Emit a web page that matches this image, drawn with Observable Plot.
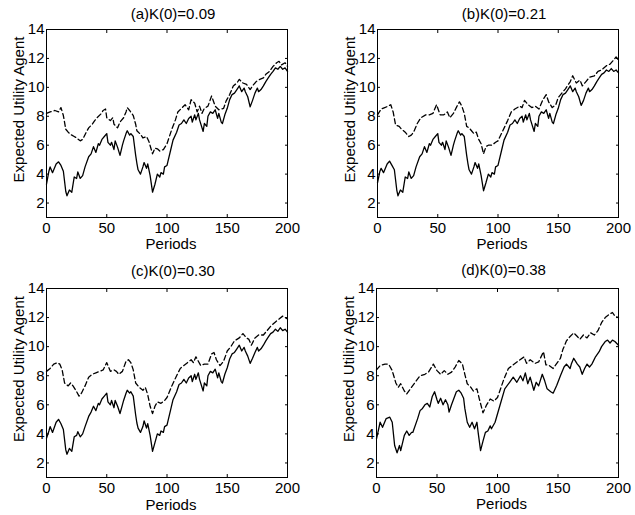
<!DOCTYPE html>
<html><head><meta charset="utf-8">
<script src="https://cdn.jsdelivr.net/npm/d3@7"></script>
<script src="https://cdn.jsdelivr.net/npm/@observablehq/plot@0.6"></script>
<style>
body{margin:0;background:#fff;}
#wrap{position:relative;width:635px;height:515px;overflow:hidden;background:#fff;}
#wrap svg{position:absolute;overflow:visible;}
</style></head><body><div id="wrap"></div>
<script>
const xTicks = [0, 50, 100, 150, 200];
const yTicks = [2, 4, 6, 8, 10, 12, 14];
const titles = ["(a)K(0)=0.09", "(b)K(0)=0.21", "(c)K(0)=0.30", "(d)K(0)=0.38"];
const xLabel = "Periods";
const yLabel = "Expected Utility Agent";

const solidA = [[0,3.3],[2,4.2],[3,4.5],[5,4.1],[8,4.7],[10,4.85],[12,4.6],[14,4.2],[16,2.8],[17,2.5],[19,2.9],[21,2.75],[23,3.8],[25,3.7],[26,4.15],[28,3.7],[30,3.9],[32,4.5],[35,5.2],[37,5.4],[39,5.9],[41,5.5],[43,6.1],[44,6.0],[46,6.4],[48,6.6],[50,6.8],[51,6.2],[53,6.0],[54,6.2],[56,5.7],[57,6.3],[59,5.85],[61,5.3],[63,6.0],[64,6.3],[66,6.8],[67,7.0],[69,6.7],[70,6.8],[72,6.6],[74,5.3],[75,4.75],[76,4.3],[78,4.0],[80,4.5],[81,4.8],[83,4.4],[84,4.7],[86,3.9],[88,2.75],[90,3.3],[92,4.0],[94,3.8],[95,4.1],[97,4.0],[98,4.5],[100,4.6],[103,5.65],[105,6.35],[108,6.9],[110,7.4],[112,7.5],[114,7.75],[116,7.5],[118,7.85],[120,8.0],[121,7.6],[123,8.1],[124,7.75],[126,8.2],[127,7.75],[130,6.95],[131,7.5],[133,7.3],[134,8.0],[136,8.3],[138,8.2],[140,8.45],[142,7.85],[143,8.2],[145,7.6],[146,7.5],[148,8.1],[150,8.55],[152,9.15],[154,9.5],[156,9.6],[158,9.85],[160,10.1],[162,9.7],[164,9.95],[165,9.7],[167,9.35],[169,8.65],[171,9.1],[173,9.6],[175,9.95],[176,9.7],[178,9.85],[180,10.1],[182,10.4],[184,10.65],[186,10.9],[188,11.1],[190,11.35],[192,11.25],[194,11.45],[196,11.25],[198,11.35],[200,11.1]];
const dashedA = [[0,8.2],[3,8.3],[7,8.4],[10,8.3],[12,8.6],[14,8.05],[16,7.1],[18,6.9],[20,6.75],[23,6.6],[25,6.5],[28,6.3],[30,6.4],[33,6.9],[35,7.2],[38,7.45],[40,7.7],[42,7.9],[45,8.15],[47,8.4],[49,8.5],[50,7.9],[53,7.7],[55,7.9],[56,7.45],[59,7.2],[61,7.6],[64,7.9],[66,8.3],[67,8.6],[69,8.4],[72,8.05],[74,7.45],[75,7.0],[78,6.75],[80,6.5],[83,6.6],[85,6.25],[88,5.4],[90,5.8],[92,5.75],[94,5.6],[97,5.7],[100,6.1],[102,6.6],[104,7.1],[107,7.75],[109,8.3],[112,8.55],[115,8.8],[118,8.45],[120,9.15],[123,8.9],[125,8.3],[127,8.7],[129,8.2],[131,8.55],[134,8.7],[137,9.4],[140,8.7],[143,8.45],[147,8.55],[149,9.05],[152,9.5],[155,10.1],[158,10.3],[160,10.55],[163,10.3],[166,10.2],[169,9.85],[171,10.1],[174,10.4],[177,10.55],[180,10.65],[182,10.9],[185,11.1],[188,11.45],[191,11.7],[193,11.8],[195,11.55],[198,11.7],[200,11.45]];

const solidB = [[0,3.4],[2,4.2],[3,4.4],[5,4.1],[8,4.7],[10,4.9],[12,4.6],[14,4.3],[16,2.9],[17,2.5],[19,2.9],[21,2.75],[23,3.8],[25,3.7],[26,4.15],[28,3.7],[30,3.9],[32,4.5],[35,5.2],[37,5.4],[39,5.9],[41,5.5],[43,6.1],[44,6.0],[46,6.4],[48,6.6],[50,6.8],[51,6.2],[53,6.0],[54,6.2],[56,5.7],[57,6.3],[59,5.85],[61,5.3],[63,6.0],[64,6.3],[66,6.8],[67,7.0],[69,6.7],[70,6.8],[72,6.6],[74,5.3],[75,4.75],[76,4.3],[78,4.0],[80,4.5],[81,4.8],[83,4.4],[84,4.7],[86,3.9],[88,2.85],[90,3.4],[92,4.0],[94,3.8],[95,4.1],[97,4.0],[98,4.5],[100,4.6],[103,5.65],[105,6.35],[108,6.9],[110,7.4],[112,7.5],[114,7.75],[116,7.5],[118,7.85],[120,8.0],[121,7.6],[123,8.1],[124,7.75],[126,8.2],[127,7.75],[130,6.95],[131,7.5],[133,7.3],[134,8.0],[136,8.3],[138,8.2],[140,8.45],[142,7.85],[143,8.2],[145,7.6],[146,7.5],[148,8.1],[150,8.55],[152,9.15],[154,9.5],[156,9.6],[158,9.85],[160,10.1],[162,9.7],[164,9.95],[165,9.7],[167,9.35],[169,8.75],[171,9.1],[173,9.6],[175,9.95],[176,9.7],[178,9.85],[180,10.1],[182,10.4],[184,10.65],[186,10.9],[188,11.0],[190,11.2],[192,11.1],[194,11.3],[196,11.1],[198,11.2],[200,11.0]];
const dashedB = [[0,8.1],[3,8.5],[6,8.6],[9,8.7],[11,8.8],[13,8.3],[15,7.4],[18,7.3],[20,7.1],[23,6.9],[26,6.6],[28,6.7],[30,6.9],[33,7.5],[36,7.9],[40,8.1],[43,8.1],[46,8.2],[49,8.8],[52,8.1],[55,8.1],[58,8.3],[60,7.9],[63,8.2],[66,8.7],[68,9.0],[70,8.7],[72,8.2],[74,7.3],[76,7.2],[78,7.0],[80,6.8],[82,6.9],[84,6.4],[86,6.1],[88,5.4],[90,5.9],[92,6.0],[95,6.0],[98,6.2],[100,6.3],[104,7.0],[108,7.7],[111,8.3],[114,8.5],[118,8.7],[120,8.6],[122,9.1],[125,8.8],[128,8.6],[131,8.7],[134,8.5],[137,9.1],[140,9.5],[142,9.0],[145,8.6],[148,8.8],[150,9.3],[153,9.6],[156,9.9],[160,10.4],[162,10.8],[165,10.3],[168,10.5],[170,10.1],[173,10.4],[176,10.7],[180,10.8],[183,11.1],[186,11.2],[190,11.5],[193,11.6],[196,11.9],[198,12.1],[200,11.9]];

const solidC = [[0,3.7],[2,4.2],[3,4.5],[5,4.1],[8,4.8],[10,5.0],[12,4.7],[14,4.3],[16,2.9],[17,2.6],[19,3.0],[21,2.8],[23,3.8],[25,3.9],[26,4.15],[28,3.8],[30,4.0],[32,4.5],[35,5.2],[37,5.5],[39,5.9],[41,5.6],[43,6.1],[44,6.0],[46,6.4],[48,6.6],[50,6.8],[51,6.2],[53,6.0],[54,6.3],[56,5.8],[57,6.3],[59,5.9],[61,5.4],[63,6.0],[64,6.3],[66,6.8],[67,7.0],[69,6.8],[70,6.9],[72,6.6],[74,5.3],[75,4.75],[76,4.4],[78,4.1],[80,4.5],[81,4.9],[83,4.4],[84,4.7],[86,3.9],[88,2.8],[90,3.4],[92,4.0],[94,3.9],[95,4.2],[97,4.1],[98,4.5],[100,4.6],[103,5.65],[105,6.35],[108,6.9],[110,7.4],[112,7.5],[114,7.75],[116,7.5],[118,7.85],[120,8.0],[121,7.6],[123,8.1],[124,7.75],[126,8.2],[127,7.75],[130,6.95],[131,7.5],[133,7.3],[134,8.0],[136,8.3],[138,8.2],[140,8.45],[142,7.85],[143,8.2],[145,7.6],[146,7.5],[148,8.1],[150,8.55],[152,9.15],[154,9.5],[156,9.6],[158,9.85],[160,10.1],[162,9.7],[164,9.95],[165,9.7],[167,9.35],[169,8.85],[171,9.2],[173,9.6],[175,9.95],[176,9.7],[178,9.85],[180,10.1],[182,10.4],[184,10.65],[186,10.9],[188,11.0],[190,11.2],[192,11.05],[194,11.3],[196,11.1],[198,11.2],[200,11.0]];
const dashedC = [[0,8.3],[3,8.5],[6,8.8],[9,8.9],[11,8.8],[13,8.4],[15,7.5],[18,7.3],[20,7.5],[22,7.3],[25,6.9],[27,6.6],[29,6.8],[32,7.3],[35,7.9],[38,8.1],[41,8.2],[44,8.3],[47,8.4],[50,8.9],[53,8.3],[56,8.4],[58,8.3],[60,8.1],[63,8.3],[66,9.0],[68,9.1],[70,8.9],[72,8.4],[74,7.5],[77,7.2],[80,7.0],[82,7.2],[84,6.7],[86,5.9],[88,5.4],[90,5.9],[92,6.2],[95,6.1],[98,6.3],[100,6.5],[104,7.3],[108,8.0],[111,8.5],[114,8.7],[117,8.9],[120,9.1],[122,8.9],[124,9.3],[126,9.0],[128,8.7],[131,8.8],[134,8.8],[137,9.5],[139,9.6],[141,9.1],[144,8.7],[147,9.0],[150,9.7],[153,10.0],[156,10.4],[160,10.6],[163,10.9],[166,10.6],[168,10.5],[170,10.1],[173,10.6],[176,10.8],[180,10.8],[183,11.1],[186,11.4],[190,11.7],[193,11.9],[196,12.1],[198,12.0],[200,11.9]];

const solidD = [[0,3.65],[3,4.8],[5,4.45],[8,5.05],[11,5.15],[13,4.8],[15,3.2],[17,2.7],[19,3.2],[20,2.85],[23,3.9],[25,4.2],[27,3.9],[29,4.1],[30,4.1],[34,5.05],[36,5.6],[38,5.75],[40,6.0],[42,6.1],[44,5.85],[46,6.55],[48,6.9],[50,6.35],[51,6.1],[53,6.45],[55,6.0],[57,6.35],[59,6.0],[60,5.5],[62,6.0],[64,6.45],[66,6.9],[68,7.0],[70,6.8],[72,6.45],[73,5.75],[75,4.8],[77,4.45],[79,4.8],[81,4.35],[83,4.8],[84,4.1],[86,2.85],[88,3.5],[90,4.1],[92,4.2],[94,4.55],[95,4.35],[98,4.8],[102,5.95],[106,7.1],[110,7.55],[113,7.9],[116,7.55],[119,8.0],[121,7.65],[123,8.2],[125,7.45],[127,7.9],[130,7.0],[132,7.55],[134,7.3],[137,8.1],[139,7.65],[141,7.1],[144,6.9],[146,6.8],[149,7.35],[152,8.0],[155,8.6],[157,8.8],[160,8.5],[161,8.8],[163,9.2],[166,8.8],[168,8.6],[170,8.1],[172,8.5],[174,8.8],[176,8.6],[178,8.8],[181,9.3],[184,9.65],[186,10.0],[189,10.35],[191,10.45],[193,10.25],[195,10.45],[197,10.35],[200,10.1]];
const dashedD = [[0,8.4],[3,8.7],[7,8.8],[10,8.8],[13,8.35],[16,7.5],[18,7.2],[20,7.45],[23,6.95],[25,6.75],[28,7.1],[32,7.55],[36,8.0],[40,8.1],[43,8.25],[47,8.8],[50,8.35],[53,8.1],[56,8.35],[59,8.1],[62,8.25],[65,8.6],[68,9.05],[71,8.8],[73,8.1],[75,7.45],[78,7.2],[80,6.95],[83,7.1],[85,6.4],[88,5.45],[91,6.0],[94,6.4],[97,6.25],[100,6.5],[105,7.7],[109,8.5],[113,8.75],[117,9.0],[122,9.3],[124,8.85],[127,9.1],[131,8.85],[134,8.95],[138,9.65],[140,8.75],[142,8.75],[146,8.5],[149,8.85],[152,9.2],[154,9.8],[157,10.4],[160,10.7],[163,10.95],[166,10.7],[168,10.5],[171,10.8],[174,10.6],[177,10.95],[180,10.8],[183,11.1],[186,11.65],[189,12.0],[192,12.2],[195,12.35],[197,12.1],[200,12.0]];

const panels = [
  {title: titles[0], solid: solidA, dashed: dashedA, left: 0,   top: 0,   ml: 46, mr: 30, mt: 29, mb: 40, tdy: -11, xdy: 31},
  {title: titles[1], solid: solidB, dashed: dashedB, left: 317, top: 0,   ml: 60, mr: 16, mt: 29, mb: 40, tdy: -11, xdy: 31},
  {title: titles[2], solid: solidC, dashed: dashedC, left: 0,   top: 257, ml: 46, mr: 30, mt: 31, mb: 37, tdy: -13, xdy: 32},
  {title: titles[3], solid: solidD, dashed: dashedD, left: 317, top: 257, ml: 59, mr: 16, mt: 31, mb: 37, tdy: -14, xdy: 31}
];

const wrap = document.getElementById("wrap");
const font = "'Liberation Sans', Arial, Helvetica, sans-serif";
for (const p of panels) {
  const svg = Plot.plot({
    width: 317, height: 257,
    marginLeft: p.ml, marginRight: p.mr, marginTop: p.mt, marginBottom: p.mb,
    x: {domain: [0, 200]},
    y: {domain: [1, 14]},
    style: {fontFamily: font, fontSize: "15px", color: "black", background: "transparent", overflow: "visible"},
    marks: [
      Plot.frame({stroke: "black", strokeWidth: 1}),
      Plot.axisX({ticks: xTicks, tickSize: 0, tickPadding: 5, label: null}),
      Plot.axisY({ticks: yTicks, tickSize: 0, tickPadding: 2, label: null}),
      Plot.axisX({ticks: xTicks, tickSize: -3, text: null, label: null}),
      Plot.axisX({anchor: "top", ticks: xTicks, tickSize: -3, text: null, label: null}),
      Plot.axisY({ticks: yTicks, tickSize: -3, text: null, label: null}),
      Plot.axisY({anchor: "right", ticks: yTicks, tickSize: -3, text: null, label: null}),
      Plot.line(p.dashed, {x: d => d[0], y: d => d[1], stroke: "black", strokeWidth: 1.3, strokeDasharray: "5,3"}),
      Plot.line(p.solid, {x: d => d[0], y: d => d[1], stroke: "black", strokeWidth: 1.3}),
      Plot.text([p.title], {text: d => d, frameAnchor: "top", lineAnchor: "bottom", dx: 6, dy: p.tdy, fontSize: 15}),
      Plot.text([xLabel], {text: d => d, frameAnchor: "bottom", lineAnchor: "bottom", dx: 4, dy: p.xdy, fontSize: 15}),
      Plot.text([yLabel], {text: d => d, frameAnchor: "left", textAnchor: "middle", rotate: -90, lineAnchor: "middle", dx: -27, dy: -14, fontSize: 15})
    ]
  });
  svg.style.left = p.left + "px";
  svg.style.top = p.top + "px";
  wrap.appendChild(svg);
}
</script></body></html>
